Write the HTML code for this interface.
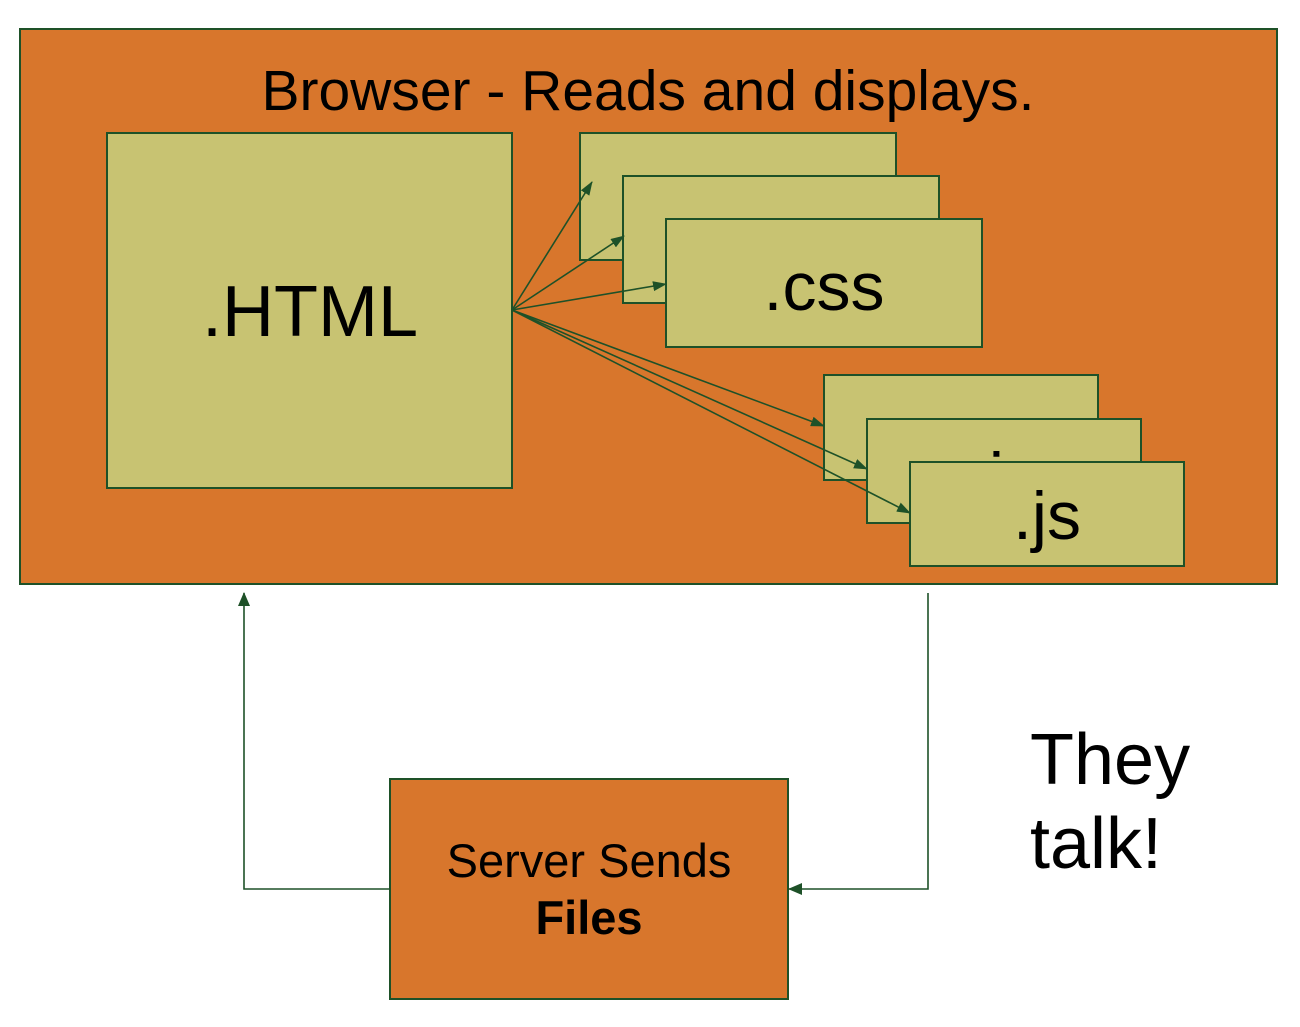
<!DOCTYPE html>
<html><head><style>
body{margin:0;background:#fff;}
</style></head><body>
<svg width="1300" height="1027" xmlns="http://www.w3.org/2000/svg" style="display:block">
<defs>
<marker id="a" markerWidth="14" markerHeight="10" refX="13" refY="5" orient="auto" markerUnits="userSpaceOnUse">
<path d="M0,0 L14,5 L0,10 z" fill="#1E5128"/></marker>
<marker id="b" markerWidth="14" markerHeight="12" refX="13" refY="6" orient="auto" markerUnits="userSpaceOnUse">
<path d="M0,0 L14,6 L0,12 z" fill="#1E5128"/></marker>
</defs>
<g font-family="Liberation Sans, Arial, sans-serif" stroke="#1E5128" stroke-width="2">
<rect x="20" y="29" width="1257" height="555" fill="#D8762C"/>
<rect x="107" y="133" width="405" height="355" fill="#C8C372"/>
<rect x="580" y="133" width="316" height="127" fill="#C8C372"/>
<rect x="623" y="176" width="316" height="127" fill="#C8C372"/>
<rect x="666" y="219" width="316" height="128" fill="#C8C372"/>
<rect x="824" y="375" width="274" height="105" fill="#C8C372"/>
<rect x="867" y="419" width="274" height="104" fill="#C8C372"/>
<text x="1004" y="500" font-size="68" text-anchor="middle" fill="#000" stroke="none">.js</text>
<rect x="910" y="462" width="274" height="104" fill="#C8C372"/>
<g stroke-width="1.6" fill="none" marker-end="url(#a)">
<line x1="512" y1="310" x2="592" y2="182"/>
<line x1="512" y1="310" x2="624" y2="236"/>
<line x1="512" y1="310" x2="666" y2="284"/>
<line x1="512" y1="310" x2="824" y2="426"/>
<line x1="512" y1="310" x2="867" y2="469"/>
<line x1="512" y1="310" x2="910" y2="513"/>
</g>
<rect x="390" y="779" width="398" height="220" fill="#D8762C"/>
<g stroke-width="1.6" fill="none" marker-end="url(#b)">
<polyline points="390,889 244,889 244,593"/>
<polyline points="928,593 928,889 789,889"/>
</g>
<g stroke="none" fill="#000">
<text x="648" y="110" font-size="57" text-anchor="middle">Browser - Reads and displays.</text>
<text x="310" y="336" font-size="72" text-anchor="middle">.HTML</text>
<text x="824" y="310" font-size="68" text-anchor="middle">.css</text>
<text x="1047" y="539" font-size="68" text-anchor="middle">.js</text>
<text x="589" y="877" font-size="47" text-anchor="middle">Server Sends</text>
<text x="589" y="934" font-size="47" text-anchor="middle" font-weight="bold">Files</text>
<text x="1030" y="784" font-size="72">They</text>
<text x="1030" y="868" font-size="72">talk!</text>
</g>
</g>
</svg>
</body></html>
